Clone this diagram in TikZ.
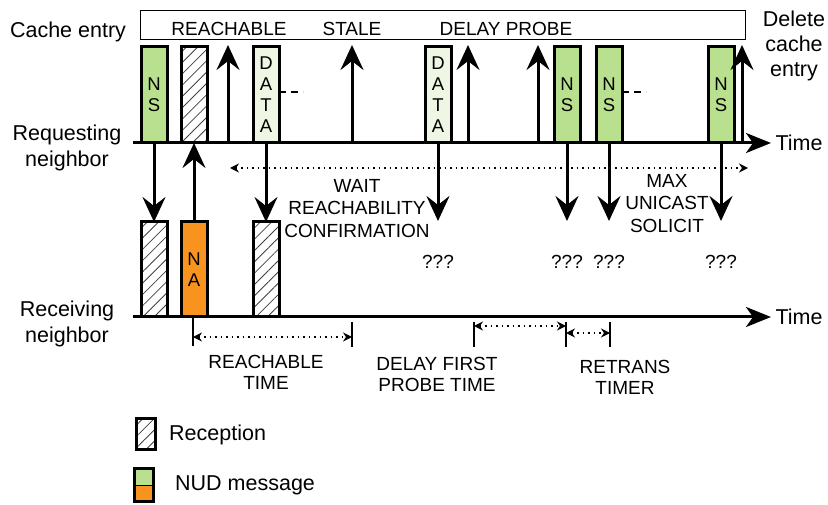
\documentclass[tikz,border=0pt]{standalone}
\usepackage{fontspec}
\setmainfont{Liberation Sans}
\usetikzlibrary{arrows.meta,patterns.meta}
\definecolor{nsgreen}{HTML}{B9E08F}
\definecolor{datagreen}{HTML}{EFF6E3}
\definecolor{naorange}{HTML}{F7931E}
\begin{document}
\begin{tikzpicture}[x=1pt,y=-1pt,
  box/.style={draw, line width=3pt, minimum width=26pt, inner sep=0pt, outer sep=0pt,
    font=\fontsize{18.5}{21}\selectfont, align=center},
  upbox/.style={box, minimum height=96pt, anchor=south},
  lowbox/.style={box, minimum height=95pt, anchor=south},
  nsfill/.style={fill=nsgreen},
  datafill/.style={fill=datagreen},
  hatch/.style={pattern={Lines[angle=45,distance=8pt,line width=0.8pt]}, pattern color=black!75},
  msg/.style={-{Stealth[length=25pt,width=23pt,inset=9pt]}, line width=3pt},
  axis/.style={-{Stealth[length=25pt,width=20pt,inset=7pt]}, line width=3pt},
  span/.style={{Stealth[length=9pt,width=9pt,inset=3pt]}-{Stealth[length=9pt,width=9pt,inset=3pt]},
    line width=1.2pt, dash pattern=on 1.5pt off 4pt},
  tick/.style={line width=1.2pt},
  lbl/.style={font=\fontsize{19}{22.5}\selectfont, align=center, inner sep=0pt, anchor=north},
  blbl/.style={font=\fontsize{19}{21.5}\selectfont, align=center, inner sep=0pt, anchor=north},
  side/.style={font=\fontsize{21.5}{26}\selectfont, align=center, inner sep=0pt, anchor=north},
  dashes/.style={line width=1.2pt, dash pattern=on 7pt off 5pt}
]
\useasboundingbox (0,0) rectangle (828,505);

% cache entry bar
\node[draw, line width=1pt, minimum width=605pt, minimum height=29pt, inner sep=0pt, anchor=north west] (cache) at (140,10) {};
\node[side] (cachelbl) at (68,22) {Cache entry};
\node[lbl] (sReach) at (229,22) {REACHABLE};
\node[lbl] (sStale) at (352,22) {STALE};
\node[lbl] (sDelay) at (506,22) {DELAY PROBE};
\node[side, font=\fontsize{21.5}{25}\selectfont] (del) at (794,11) {Delete\\cache\\entry};

% side labels
\node[side] (reqlbl) at (67,125) {Requesting\\neighbor};
\node[side] (reclbl) at (67,301) {Receiving\\neighbor};

% timelines
\coordinate (reqA) at (133,143);
\coordinate (reqB) at (771,143);
\coordinate (recA) at (133,317);
\coordinate (recB) at (771,317);
\draw[axis] (reqA) -- (reqB);
\draw[axis] (recA) -- (recB);
\node[side] (time1) at (799,135) {Time};
\node[side] (time2) at (799,309) {Time};

% upper boxes
\node[upbox, nsfill] (ns1) at (154,143) {N\\S};
\node[upbox, hatch] (hx1) at (194,143) {};
\node[upbox, datafill] (d1) at (266,143) {D\\A\\T\\A};
\node[upbox, datafill] (d2) at (438,143) {D\\A\\T\\A};
\node[upbox, nsfill] (ns2) at (567,143) {N\\S};
\node[upbox, nsfill] (ns3) at (609,143) {N\\S};
\node[upbox, nsfill] (ns4) at (721,143) {N\\S};

% dashes after boxes
\coordinate (dsh1) at (303,92);
\coordinate (dsh2) at (646,92);
\draw[dashes] (d1.east |- dsh1) -- (dsh1);
\draw[dashes] (ns3.east |- dsh2) -- (dsh2);

% state change arrows
\foreach \x/\n in {228/u1,352/u2,468/u3,538/u4,742/u5}{
  \coordinate (\n a) at (\x,143);
  \coordinate (\n b) at (\x,45);
  \draw[msg] (\n a) -- (\n b);
}

% lower boxes
\node[lowbox, hatch] (rx1) at (154,317) {};
\node[lowbox, fill=naorange] (na) at (194,317) {N\\A};
\node[lowbox, hatch] (rx2) at (266,317) {};

% messages
\draw[msg] (ns1.south) -- (rx1.north);
\draw[msg] (na.north) -- (hx1.south);
\draw[msg] (d1.south) -- (rx2.north);
\foreach \b/\x in {d2/438,ns2/567,ns3/609,ns4/721}{
  \coordinate (\b end) at (\x,221);
  \draw[msg] (\b.south) -- (\b end);
  \node[lbl] (\b q) at (\x,255) {???};
}

% wait / max span
\coordinate (wA) at (230,168);
\coordinate (wB) at (748,168);
\draw[span] (wA) -- (wB);
\node[lbl] (wait) at (357,179) {WAIT\\REACHABILITY\\CONFIRMATION};
\node[lbl] (maxu) at (667,174) {MAX\\UNICAST\\SOLICIT};

% bottom timers
\coordinate (k1a) at (193,317); \coordinate (k1b) at (193,346);
\coordinate (k2a) at (352,322); \coordinate (k2b) at (352,347);
\coordinate (k3a) at (474,322); \coordinate (k3b) at (474,347);
\coordinate (k4a) at (566,322); \coordinate (k4b) at (566,347);
\coordinate (k5a) at (610,322); \coordinate (k5b) at (610,347);
\foreach \k in {k1,k2,k3,k4,k5}{\draw[tick] (\k a) -- (\k b);}
\draw[span] (k1a |- 0,337) -- (k2a |- 0,337);
\draw[span] (k3a |- 0,326) -- (k4a |- 0,326);
\draw[span] (k4a |- 0,333) -- (k5a |- 0,333);
\node[blbl] (tReach) at (266,355) {REACHABLE\\TIME};
\node[blbl] (tDelay) at (437,357) {DELAY FIRST\\PROBE TIME};
\node[blbl] (tRetr) at (625,360) {RETRANS\\TIMER};

% legend
\node[draw, line width=3pt, hatch, minimum width=19pt, minimum height=31pt, inner sep=0pt, anchor=north west] (legR) at (134.5,416.5) {};
\node[font=\fontsize{21.5}{26}\selectfont, inner sep=0pt, anchor=base west] (legRt) at (169,440) {Reception};
\node[fill=nsgreen, minimum width=19pt, minimum height=17pt, inner sep=0pt, anchor=north west] (legG) at (134.5,468) {};
\node[fill=naorange, minimum width=19pt, minimum height=16pt, inner sep=0pt, anchor=north west] (legO) at (134.5,485) {};
\draw[line width=3pt] (legG.north west) rectangle (legO.south east);
\draw[line width=1.5pt] (legG.south west) -- (legG.south east);
\node[font=\fontsize{21.5}{26}\selectfont, inner sep=0pt, anchor=base west] (legNt) at (175,490) {NUD message};
\end{tikzpicture}
\end{document}
